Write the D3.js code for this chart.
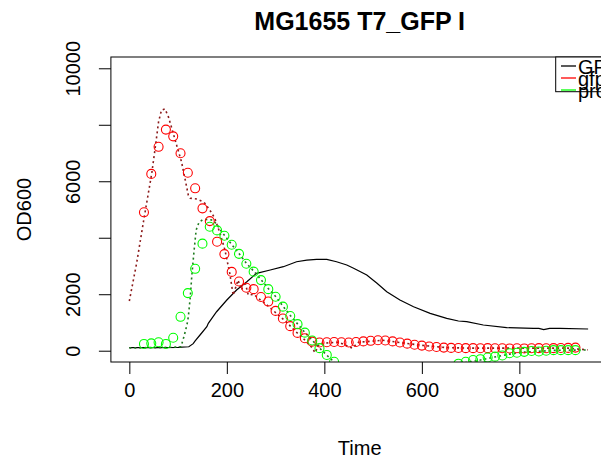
<!DOCTYPE html>
<html><head><meta charset="utf-8">
<script src="https://cdn.jsdelivr.net/npm/d3@7"></script>
<style>body{margin:0;background:#fff}svg{display:block}</style>
</head><body>
<script>
// ---- data ----
const title = "MG1655 T7_GFP I";
const xLabel = "Time", yLabel = "OD600";
const xTicks = [0, 200, 400, 600, 800];
const yTicks = [0, 2000, 4000, 6000, 8000, 10000];
const yTickLabels = ["0", "2000", "", "6000", "", "10000"];
const legendLabels = ["GFP", "gfp", "pro"];

const pointTimes = [30,45,60,75,90,105,120,135,150,165,180,195,210,225,240,255,270,285,300,315,330,345,360,375,390,405,420,435,450,465,480,495,510,525,540,555,570,585,600,615,630,645,660,675,690,705,720,735,750,765,780,795,810,825,840,855,870,885,900,915];
const redPoints = [4900,6260,7220,7830,7590,6990,6300,5750,5040,4590,3860,3420,2790,2450,2230,2180,1900,1740,1410,1140,870,630,440,320,290,300,310,300,290,310,330,350,370,360,330,290,250,210,180,150,130,110,100,95,90,90,85,90,85,85,80,85,80,85,90,85,90,95,100,110];
const greenPoints = [240,260,300,240,460,1200,2040,2900,3790,4390,4260,4070,3750,3430,3080,2800,2500,2180,1910,1560,1230,940,640,360,90,-150,-390,-640,-880,-1100,-1300,-1450,-1560,-1620,-1650,-1600,-1500,-1380,-1230,-1060,-880,-720,-580,-460,-390,-330,-300,-240,-210,-170,-90,-70,-40,-10,-30,0,20,20,20,20];

const blackTimes = [0,60,100,122,131,135,145,159,162,179,200,220,241,261,289,316,343,364,384,405,425,446,460,487,508,528,555,583,617,651,675,692,726,774,829,840,850,862,883,941];
const blackValues = [106,110,120,140,250,350,556,850,970,1380,1795,2150,2443,2740,2858,2975,3150,3210,3236,3236,3150,3035,2918,2680,2387,2090,1795,1558,1324,1147,1052,1027,910,815,793,793,750,793,793,768];

const redLineTimes = [0,15,29,46,53,60,66,73,80,87,97,107,114,121,125,139,148,155,165,175,186,196,206,213,223,230,237,244,255,265,280,300,320,340,360,375,381,390,410,430,457,470,500,520,550,600,650,700,800,900,940];
const redLineValues = [1760,3100,4570,6280,7170,8110,8520,8560,8290,7880,7280,6690,6100,5510,5400,5370,5300,5220,4980,4700,4160,3570,2740,1970,2500,2150,2450,1970,2000,1850,1650,1350,1050,700,380,100,-70,250,280,300,90,300,340,370,300,190,110,90,90,90,30];

const greenLineTimes = [0,20,40,60,80,100,106,112,118,121,125,128,132,137,143,150,160,172,180,190,200,210,225,240,255,270,285,300,315,330,345,360,375,390,405,420,450,500,550,600,650,690,720,750,780,810,840,870,900,940];
const greenLineValues = [100,100,110,110,120,130,140,500,900,1200,1900,2620,3400,4270,4550,4630,4650,4620,4450,4200,3980,3760,3440,3100,2820,2520,2200,1920,1580,1250,950,650,370,100,-160,-400,-900,-1500,-1650,-1300,-800,-420,-330,-220,-120,-50,-20,10,20,25];

// ---- layout ----
const W = 601, H = 460;
const L = 110.9, R = 608.5, T = 57, B = 362;
const svg = d3.select("body").append("svg").attr("width", W).attr("height", H)
  .style("font-family", "'Liberation Sans', Arial, sans-serif");
svg.append("rect").attr("width", W).attr("height", H).attr("fill", "#fff");

const x = d3.scaleLinear().domain([-37.8, 982.8]).range([L, R]);
const y = d3.scaleLinear().domain([-400, 10400]).range([B, T]);

svg.append("clipPath").attr("id", "clip").append("rect")
  .attr("x", L).attr("y", T).attr("width", R - L).attr("height", B - T);
const g = svg.append("g").attr("clip-path", "url(#clip)");

const line = d3.line().x(d => x(d[0])).y(d => y(d[1]));
const zip = (a, b) => a.map((t, i) => [t, b[i]]);

g.append("path").datum(zip(blackTimes, blackValues)).attr("d", line)
  .attr("fill", "none").attr("stroke", "#000").attr("stroke-width", 1.2);
g.append("path").datum(zip(redLineTimes, redLineValues)).attr("d", line)
  .attr("fill", "none").attr("stroke", "#8B1A1A").attr("stroke-width", 1.6).attr("stroke-dasharray", "2,3");
g.append("path").datum(zip(greenLineTimes, greenLineValues)).attr("d", line)
  .attr("fill", "none").attr("stroke", "#1E7B1E").attr("stroke-width", 1.6).attr("stroke-dasharray", "2,3");

g.selectAll("circle.r").data(zip(pointTimes, redPoints)).join("circle").attr("class", "r")
  .attr("cx", d => x(d[0])).attr("cy", d => y(d[1])).attr("r", 4.5)
  .attr("fill", "none").attr("stroke", "#FF0000").attr("stroke-width", 1.1);
g.selectAll("circle.gr").data(zip(pointTimes, greenPoints)).join("circle").attr("class", "gr")
  .attr("cx", d => x(d[0])).attr("cy", d => y(d[1])).attr("r", 4.5)
  .attr("fill", "none").attr("stroke", "#00FF00").attr("stroke-width", 1.1);

// frame
svg.append("rect").attr("x", L).attr("y", T).attr("width", R - L).attr("height", B - T)
  .attr("fill", "none").attr("stroke", "#000").attr("stroke-width", 1);

// x axis
const xa = svg.append("g").attr("transform", `translate(0,${B})`)
  .call(d3.axisBottom(x).tickValues(xTicks).tickSize(12).tickPadding(0).tickFormat(d3.format("d")));
xa.select(".domain").remove();
xa.selectAll("text").attr("font-size", 20).attr("fill", "#000").attr("y", 35).attr("dy", 0);
xa.selectAll("line").attr("stroke", "#000");

// y axis
const ya = svg.append("g").attr("transform", `translate(${L},0)`)
  .call(d3.axisLeft(y).tickValues(yTicks).tickSize(12).tickFormat((d, i) => yTickLabels[i]));
ya.select(".domain").remove();
ya.selectAll("line").attr("stroke", "#000");
ya.selectAll("text").attr("font-size", 20).attr("fill", "#000")
  .attr("x", 0).attr("dy", 0).attr("text-anchor", "middle")
  .attr("transform", "translate(-31,0) rotate(-90)");

// labels
svg.append("text").attr("x", (L + R) / 2).attr("y", 30).attr("text-anchor", "middle")
  .attr("font-size", 25).attr("font-weight", "bold").text(title);
svg.append("text").attr("x", (L + R) / 2).attr("y", 455).attr("text-anchor", "middle")
  .attr("font-size", 20).text(xLabel);
svg.append("text").attr("transform", `translate(31,${(T + B) / 2}) rotate(-90)`)
  .attr("text-anchor", "middle").attr("font-size", 20).text(yLabel);

// legend
const lg = svg.append("g");
lg.append("rect").attr("x", 555.7).attr("y", T).attr("width", R - 555.7).attr("height", 34.7)
  .attr("fill", "#fff").attr("stroke", "#000");
const legCols = ["#000000", "#FF0000", "#00FF00"];
legendLabels.forEach((lab, i) => {
  const ly = 66 + i * 12;
  lg.append("line").attr("x1", 561).attr("x2", 576).attr("y1", ly).attr("y2", ly)
    .attr("stroke", legCols[i]).attr("stroke-width", 1.3);
  lg.append("text").attr("x", 578).attr("y", ly + 7.5).attr("font-size", 20).attr("fill", "#000").text(lab);
});
</script>
</body></html>
